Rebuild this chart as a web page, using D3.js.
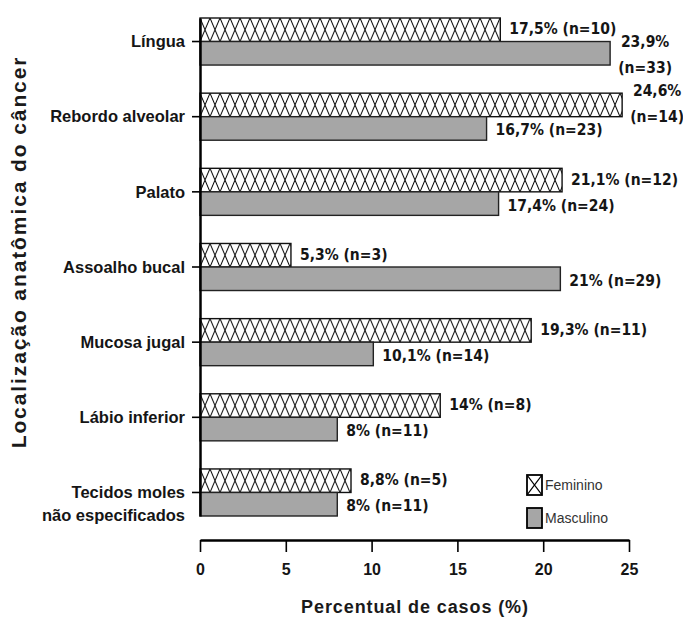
<!DOCTYPE html>
<html>
<head>
<meta charset="utf-8">
<script src="https://cdn.jsdelivr.net/npm/d3@7"></script>
<style>
  html, body { margin: 0; padding: 0; background: #fff; }
  svg { display: block; }
</style>
</head>
<body>
<div id="chart"></div>
<script>
const categories = ["Língua", "Rebordo alveolar", "Palato", "Assoalho bucal", "Mucosa jugal", "Lábio inferior", "Tecidos moles\nnão especificados"];
const femininoPct = [17.5, 24.6, 21.1, 5.3, 19.3, 14, 8.8];
const femininoN = [10, 14, 12, 3, 11, 8, 5];
const masculinoPct = [23.9, 16.7, 17.4, 21, 10.1, 8, 8];
const masculinoN = [33, 23, 24, 29, 14, 11, 11];
const xTicks = [0, 5, 10, 15, 20, 25];
const seriesNames = ["Feminino", "Masculino"];

const W = 683, H = 620;
const svg = d3.select("#chart").append("svg").attr("width", W).attr("height", H);

const narrow = "'Liberation Sans Narrow', 'Arial Narrow', 'DejaVu Sans Condensed', sans-serif";
const sans = "'Liberation Sans', Arial, sans-serif";
const txt = "#151515";

const x = d3.scaleLinear().domain([0, 25]).range([200, 629]);
const y = d3.scaleBand().domain(categories).range([18, 516]).paddingInner(0.374).paddingOuter(0);
const bw = y.bandwidth();
const half = bw / 2;

// crosshatch pattern (tile height = bar height)
const defs = svg.append("defs");
const pat = defs.append("pattern").attr("id", "hatch").attr("patternUnits", "userSpaceOnUse")
  .attr("width", 10).attr("height", half);
pat.append("rect").attr("width", 10).attr("height", half).attr("fill", "#fff");
pat.append("path").attr("d", `M0,0L10,${half}M10,0L0,${half}M-10,0L0,${half}M20,0L10,${half}M0,0L-10,${half}M10,0L20,${half}`)
  .attr("stroke", "#000").attr("stroke-width", 1).attr("fill", "none");

const legPat = defs.append("pattern").attr("id", "legHatch").attr("patternUnits", "objectBoundingBox")
  .attr("width", 1).attr("height", 1).attr("patternContentUnits", "objectBoundingBox");
legPat.append("rect").attr("width", 1).attr("height", 1).attr("fill", "#fff");
legPat.append("path").attr("d", "M0,0L1,1M1,0L0,1").attr("stroke", "#000").attr("stroke-width", 0.07);

const fmt = v => String(v).replace(".", ",");

const data = categories.map((c, i) => ({
  cat: c,
  fem: femininoPct[i], femN: femininoN[i],
  masc: masculinoPct[i], mascN: masculinoN[i]
}));

// bars
const rows = svg.append("g").selectAll("g").data(data).join("g");
rows.each(function(d) {
  const g = d3.select(this);
  const top = y(d.cat);
  g.append("g").attr("transform", `translate(0,${top})`)
    .append("rect").attr("x", x(0)).attr("y", 0).attr("width", x(d.fem) - x(0)).attr("height", half)
    .attr("fill", "url(#hatch)").attr("stroke", "#111").attr("stroke-width", 1.4);
  g.append("rect").attr("x", x(0)).attr("y", top + half).attr("width", x(d.masc) - x(0)).attr("height", half)
    .attr("fill", "#a6a6a6").attr("stroke", "#222").attr("stroke-width", 1.4);
});

// value labels
function addLabel(v, n, yc) {
  const str1 = fmt(v) + "%";
  const str2 = "(n=" + n + ")";
  const full = str1 + " " + str2;
  const x0 = x(v);
  if (x0 + 9 + 96 > W) {
    const t = svg.append("text").attr("x", x0 + 35).attr("text-anchor", "middle")
      .attr("font-family", narrow).attr("font-weight", "bold").attr("font-size", 15.5).attr("fill", txt);
    t.append("tspan").attr("x", x0 + 35).attr("y", yc - 13).attr("dy", "0.35em").text(str1);
    t.append("tspan").attr("x", x0 + 35).attr("y", yc + 13).attr("dy", "0.35em").text(str2);
  } else {
    svg.append("text").attr("x", x0 + 9).attr("y", yc).attr("dy", "0.35em")
      .attr("font-family", narrow).attr("font-weight", "bold").attr("font-size", 15.5).attr("fill", txt)
      .text(full);
  }
}
data.forEach(d => {
  const top = y(d.cat);
  addLabel(d.fem, d.femN, top + half / 2 - 1);
  addLabel(d.masc, d.mascN, top + half * 1.5 + 1.5);
});

// y axis
const yAxis = svg.append("g").attr("transform", `translate(${x(0)},0)`)
  .call(d3.axisLeft(y).tickSize(8).tickSizeOuter(0).tickFormat(""));
yAxis.select(".domain").attr("stroke", "#000").attr("stroke-width", 2.5);
yAxis.selectAll(".tick line").attr("stroke", "#000").attr("stroke-width", 1.6);

categories.forEach(c => {
  const lines = c.split("\n");
  const yc = y(c) + half;
  const t = svg.append("text").attr("text-anchor", "end")
    .attr("font-family", sans).attr("font-weight", "bold").attr("font-size", 16.5).attr("fill", txt);
  t.append("tspan").attr("x", 185).attr("y", yc).attr("dy", "0.35em").text(lines[0]);
  if (lines.length > 1) {
    t.append("tspan").attr("x", 185).attr("y", yc + 23).attr("dy", "0.35em").text(lines[1]);
  }
});

// x axis
const xAxis = svg.append("g").attr("transform", "translate(0,540)")
  .call(d3.axisBottom(x).tickValues(xTicks).tickSize(12).tickSizeOuter(0).tickPadding(12));
xAxis.select(".domain").attr("stroke", "#000").attr("stroke-width", 2.5);
xAxis.selectAll(".tick line").attr("stroke", "#000").attr("stroke-width", 1.6);
xAxis.selectAll(".tick text").attr("font-family", sans)
  .attr("font-weight", "bold").attr("font-size", 16).attr("fill", txt);

// axis titles
svg.append("text").attr("x", 415).attr("y", 607).attr("dy", "0.35em").attr("text-anchor", "middle")
  .attr("font-family", sans).attr("font-weight", "bold").attr("letter-spacing", 0.9)
  .attr("font-size", 18).attr("fill", "#1a1a1a").text("Percentual de casos (%)");

svg.append("text").attr("transform", "translate(19,252) rotate(-90)").attr("dy", "0.35em")
  .attr("text-anchor", "middle").attr("letter-spacing", 1.9)
  .attr("font-family", sans).attr("font-weight", "bold")
  .attr("font-size", 21).attr("fill", "#1a1a1a").text("Localização anatômica do câncer");

// legend
const leg = svg.append("g");
seriesNames.forEach((s, i) => {
  const ly = 475 + i * 33;
  leg.append("rect").attr("x", 527).attr("y", ly).attr("width", 15).attr("height", 20)
    .attr("fill", i === 0 ? "url(#legHatch)" : "#a6a6a6").attr("stroke", "#000").attr("stroke-width", 1.8);
  leg.append("text").attr("x", 545).attr("y", ly + 10).attr("dy", "0.35em")
    .attr("font-family", sans).attr("font-size", 14).attr("fill", "#333").text(s);
});
</script>
</body>
</html>
